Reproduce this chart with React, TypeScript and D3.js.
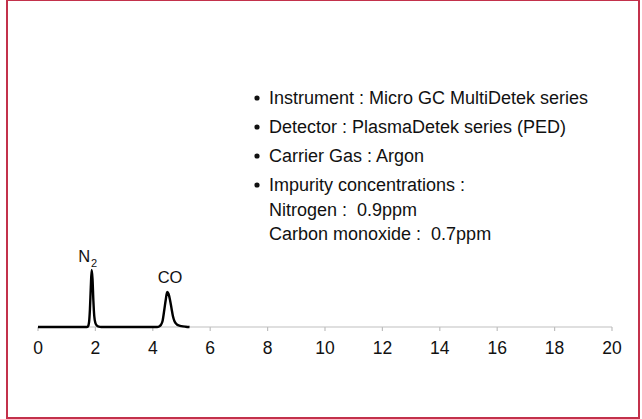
import React from "react";
import * as d3 from "d3";

const tickValues = [0, 2, 4, 6, 8, 10, 12, 14, 16, 18, 20];

// Retention time (min) and detector signal (arbitrary units)
const times = [
  0, 1.0, 1.7, 1.74, 1.78, 1.81, 1.84, 1.87, 1.9, 1.93, 1.96, 2.0, 2.05, 2.12, 2.2,
  3.0, 4.15, 4.22, 4.28, 4.34, 4.4, 4.45, 4.5, 4.55, 4.6, 4.65, 4.7, 4.76, 4.84, 4.95, 5.05, 5.15, 5.28,
];
const signal = [
  0, 0, 0, 0.5, 5, 18, 40, 57, 48, 26, 11, 4, 1.5, 0.3, 0,
  0, 0, 0.5, 2, 6, 17, 27, 35, 33, 27, 19, 11, 5.5, 2.5, 1.2, 0.6, 0.3, 0,
];

const peakLabels = [
  { name: "N", sub: "2", t: 1.87 },
  { name: "CO", sub: "", t: 4.53 },
];

const infoLines = [
  { bullet: true, text: "Instrument : Micro GC MultiDetek series" },
  { bullet: true, text: "Detector : PlasmaDetek series (PED)" },
  { bullet: true, text: "Carrier Gas : Argon" },
  { bullet: true, text: "Impurity concentrations :" },
  { bullet: false, text: "Nitrogen :  0.9ppm" },
  { bullet: false, text: "Carbon monoxide :  0.7ppm" },
];
const infoBaselines = [104, 133, 162, 191, 216, 240];

export default function App() {
  const W = 642;
  const H = 419;
  const x = d3.scaleLinear().domain([0, 20]).range([38, 612]);
  const y = d3.scaleLinear().domain([0, 300]).range([327, 27]);
  const pts: [number, number][] = times.map((t, i) => [t, signal[i]]);
  const line = d3
    .line<[number, number]>()
    .x((d) => x(d[0]))
    .y((d) => y(d[1]))
    .curve(d3.curveMonotoneX);
  const font = "'Liberation Sans', Arial, sans-serif";
  const peakTop = (t: number) => {
    let best = 0;
    times.forEach((tt, i) => {
      if (Math.abs(tt - t) < 0.12) best = Math.max(best, signal[i]);
    });
    return y(best);
  };
  return (
    <svg
      width={W}
      height={H}
      style={{ position: "absolute", left: 0, top: 0, background: "#fff" }}
      fontFamily={font}
    >
      <rect x={7} y={0} width={632} height={418} fill="#fff" stroke="#c3314b" strokeWidth={2} />
      {/* axis */}
      <line x1={x(0)} x2={x(20)} y1={y(0)} y2={y(0)} stroke="#bfbfbf" strokeWidth={1.2} />
      {tickValues.map((v) => (
        <g key={v}>
          <line x1={x(v)} x2={x(v)} y1={y(0)} y2={y(0) + 4} stroke="#bfbfbf" strokeWidth={1.2} />
          <text x={x(v)} y={y(0) + 27} textAnchor="middle" fontSize={17.5} fill="#111">
            {v}
          </text>
        </g>
      ))}
      {/* chromatogram */}
      <path d={line(pts) || ""} fill="none" stroke="#000" strokeWidth={2.4} strokeLinejoin="round" />
      {peakLabels.map((p) => (
        <text
          key={p.name}
          x={x(p.t) + (p.sub ? -4 : 2)}
          y={peakTop(p.t) - (p.sub ? 8 : 9)}
          textAnchor="middle"
          fontSize={16.5}
          fill="#111"
        >
          {p.name}
          {p.sub && (
            <tspan fontSize={11} dx={1} dy={5}>
              {p.sub}
            </tspan>
          )}
        </text>
      ))}
      {/* info block */}
      {infoLines.map((l, i) => (
        <g key={i}>
          {l.bullet && <circle cx={257} cy={infoBaselines[i] - 6} r={2.6} fill="#111" />}
          <text
            x={269}
            y={infoBaselines[i]}
            fontSize={18}
            fill="#111"
            style={{ whiteSpace: "pre" }}
          >
            {l.text}
          </text>
        </g>
      ))}
    </svg>
  );
}
